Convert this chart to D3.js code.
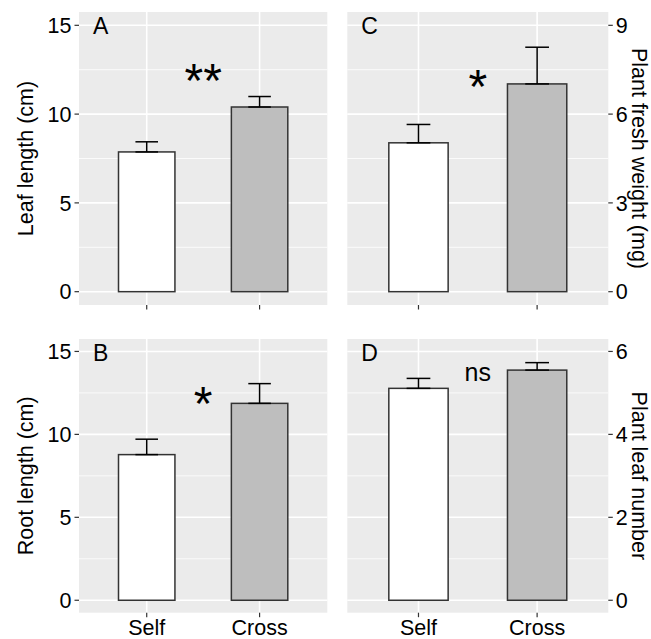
<!DOCTYPE html>
<html>
<head>
<meta charset="utf-8">
<script src="https://cdn.jsdelivr.net/npm/d3@7"></script>
<style>
  body { margin: 0; background: #fff; }
  svg { display: block; }
  text { font-family: "Liberation Sans", Arial, sans-serif; fill: #000; }
</style>
</head>
<body>
<div id="chart"></div>
<script>
// groups and values (mean and upper standard error)
const groups = ["Self", "Cross"];
const leafLength = [7.87, 10.40];
const leafLengthSE = [0.57, 0.59];
const rootLength = [8.78, 11.87];
const rootLengthSE = [0.93, 1.19];
const freshWeight = [5.03, 7.02];
const freshWeightSE = [0.62, 1.24];
const leafNumber = [5.11, 5.55];
const leafNumberSE = [0.24, 0.18];

const panelLetters = ["A", "B", "C", "D"];
const sigLabels = ["**", "*", "*", "ns"];
const sigY = [12.6, 12.6, 7.35, 5.45];

const ticksLength = [0, 5, 10, 15];
const ticksWeight = [0, 3, 6, 9];
const ticksNumber = [0, 2, 4, 6];

const barFill = ["#FFFFFF", "#BEBEBE"];

const width = 651, height = 639;
const svg = d3.select("#chart").append("svg")
    .attr("width", width)
    .attr("height", height);

const fsAxis = 21.5;

function drawPanel(p) {
    const g = svg.append("g");
    const x = d3.scalePoint().domain(groups).range([p.x0, p.x1]).padding(0.6);
    const step = x.step();
    const span = p.ymax - p.ymin;
    const y = d3.scaleLinear()
        .domain([p.ymin - span * 0.05, p.ymax + span * 0.05])
        .range([p.y1, p.y0]);

    g.append("rect")
        .attr("x", p.x0).attr("y", p.y0)
        .attr("width", p.x1 - p.x0).attr("height", p.y1 - p.y0)
        .attr("fill", "#EBEBEB");

    // minor grid
    const minor = p.ticks.slice(1).map((t, i) => (t + p.ticks[i]) / 2);
    g.selectAll(".minor").data(minor).join("line")
        .attr("x1", p.x0).attr("x2", p.x1)
        .attr("y1", d => y(d)).attr("y2", d => y(d))
        .attr("stroke", "#fff").attr("stroke-width", 0.8);
    // major grid
    g.selectAll(".major").data(p.ticks).join("line")
        .attr("x1", p.x0).attr("x2", p.x1)
        .attr("y1", d => y(d)).attr("y2", d => y(d))
        .attr("stroke", "#fff").attr("stroke-width", 1.6);
    g.selectAll(".vmajor").data(groups).join("line")
        .attr("x1", d => x(d)).attr("x2", d => x(d))
        .attr("y1", p.y0).attr("y2", p.y1)
        .attr("stroke", "#fff").attr("stroke-width", 1.6);

    // bars
    const bw = step * 0.5;
    g.selectAll(".bar").data(groups).join("rect")
        .attr("x", d => x(d) - bw / 2)
        .attr("y", (d, i) => y(p.values[i]))
        .attr("width", bw)
        .attr("height", (d, i) => y(0) - y(p.values[i]))
        .attr("fill", (d, i) => barFill[i])
        .attr("stroke", "#333333").attr("stroke-width", 1.5);

    // error bars (mean to mean + se)
    const cw = step * 0.2;
    groups.forEach((d, i) => {
        const top = p.values[i] + p.se[i];
        const eb = g.append("g").attr("stroke", "#000").attr("stroke-width", 1.5);
        eb.append("line")
            .attr("x1", x(d)).attr("x2", x(d))
            .attr("y1", y(p.values[i])).attr("y2", y(top));
        eb.append("line")
            .attr("x1", x(d) - cw / 2).attr("x2", x(d) + cw / 2)
            .attr("y1", y(top)).attr("y2", y(top));
        eb.append("line")
            .attr("x1", x(d) - cw / 2).attr("x2", x(d) + cw / 2)
            .attr("y1", y(p.values[i])).attr("y2", y(p.values[i]));
    });

    // significance label, centred between the two groups
    const mid = (x(groups[0]) + x(groups[1])) / 2;
    const isStar = p.sig.indexOf("*") >= 0;
    const sfs = isStar ? 48 : 25;
    g.append("text")
        .attr("x", mid)
        .attr("y", y(p.sigY) + (isStar ? 0.6 : 0.26) * sfs)
        .attr("text-anchor", "middle")
        .attr("font-size", sfs)
        .text(p.sig);

    // panel letter
    g.append("text")
        .attr("x", p.x0 + 14).attr("y", p.y0 + 21.5)
        .attr("font-size", 23)
        .text(p.letter);

    // x ticks
    g.selectAll(".xt").data(groups).join("line")
        .attr("x1", d => x(d)).attr("x2", d => x(d))
        .attr("y1", p.y1).attr("y2", p.y1 + 4.5)
        .attr("stroke", "#333").attr("stroke-width", 1.2);
    if (p.xLabels) {
        g.selectAll(".xl").data(groups).join("text")
            .attr("x", d => x(d)).attr("y", 634.5)
            .attr("text-anchor", "middle")
            .attr("font-size", fsAxis)
            .text(d => d);
    }

    // y axis
    const left = p.side === "left";
    const ax = left ? p.x0 : p.x1;
    const dir = left ? -1 : 1;
    g.selectAll(".yt").data(p.ticks).join("line")
        .attr("x1", ax).attr("x2", ax + dir * 4.5)
        .attr("y1", d => y(d)).attr("y2", d => y(d))
        .attr("stroke", "#333").attr("stroke-width", 1.2);
    g.selectAll(".yl").data(p.ticks).join("text")
        .attr("x", ax + dir * 7.5)
        .attr("y", d => y(d) + 0.36 * fsAxis)
        .attr("text-anchor", left ? "end" : "start")
        .attr("font-size", fsAxis)
        .text(d => d);

    const cy = (p.y0 + p.y1) / 2;
    const tx = left ? 33 : 632;
    g.append("text")
        .attr("transform", `translate(${tx},${cy}) rotate(${left ? -90 : 90})`)
        .attr("text-anchor", "middle")
        .attr("font-size", fsAxis)
        .text(p.title);
}

const L = [79, 327.3], R = [347.3, 608.3];
const T = [12, 305], B = [339, 612.7];

drawPanel({ x0: L[0], x1: L[1], y0: T[0], y1: T[1], ymin: 0, ymax: 15,
    ticks: ticksLength, values: leafLength, se: leafLengthSE,
    letter: panelLetters[0], sig: sigLabels[0], sigY: sigY[0],
    side: "left", title: "Leaf length (cm)", xLabels: false });

drawPanel({ x0: L[0], x1: L[1], y0: B[0], y1: B[1], ymin: 0, ymax: 15,
    ticks: ticksLength, values: rootLength, se: rootLengthSE,
    letter: panelLetters[1], sig: sigLabels[1], sigY: sigY[1],
    side: "left", title: "Root length (cm)", xLabels: true });

drawPanel({ x0: R[0], x1: R[1], y0: T[0], y1: T[1], ymin: 0, ymax: 9,
    ticks: ticksWeight, values: freshWeight, se: freshWeightSE,
    letter: panelLetters[2], sig: sigLabels[2], sigY: sigY[2],
    side: "right", title: "Plant fresh weight (mg)", xLabels: false });

drawPanel({ x0: R[0], x1: R[1], y0: B[0], y1: B[1], ymin: 0, ymax: 6,
    ticks: ticksNumber, values: leafNumber, se: leafNumberSE,
    letter: panelLetters[3], sig: sigLabels[3], sigY: sigY[3],
    side: "right", title: "Plant leaf number", xLabels: true });
</script>
</body>
</html>
